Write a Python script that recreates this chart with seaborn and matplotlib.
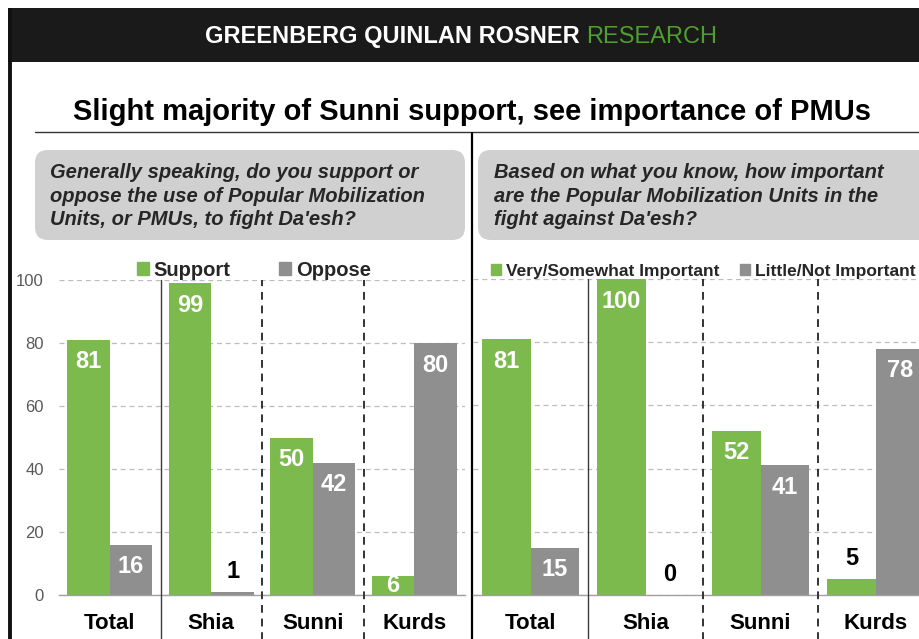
import matplotlib.pyplot as plt
import matplotlib.patches as mpatches
import pandas as pd
import seaborn as sns

groups = ["Total", "Shia", "Sunni", "Kurds"]
support = [81, 99, 50, 6]
oppose = [16, 1, 42, 80]
important = [81, 100, 52, 5]
not_important = [15, 0, 41, 78]

left_names = ["Support", "Oppose"]
right_names = ["Very/Somewhat Important", "Little/Not Important"]

GREEN = "#7DBA4D"
GRAY = "#8F8F8F"
BOX = "#D0D0D0"

sns.set_theme(style="white")
plt.rcParams["font.family"] = ["Liberation Sans", "DejaVu Sans"]

W, H = 920, 639
fig = plt.figure(figsize=(W / 100, H / 100), dpi=100, facecolor="white")


def px_axes(x0, y0, x1, y1):
    # box given in pixels, origin top-left
    return fig.add_axes([x0 / W, 1 - y1 / H, (x1 - x0) / W, (y1 - y0) / H])


# ---- decorations (pixel coordinates) ----
bg = fig.add_axes([0, 0, 1, 1])
bg.set_xlim(0, W)
bg.set_ylim(H, 0)
bg.axis("off")

bg.add_patch(mpatches.Rectangle((8, 8), W, 54, fc="#1A1A1A", ec="none"))
bg.plot([10, 10], [8, H + 5], color="#111111", lw=2.8, solid_capstyle="butt")
bg.text(580, 37, "GREENBERG QUINLAN ROSNER", color="white", fontsize=17,
        fontweight="bold", ha="right", va="center")
bg.text(586, 37, "RESEARCH", color="#4E9F2D", fontsize=17, ha="left", va="center")

bg.text(472, 112, "Slight majority of Sunni support, see importance of PMUs",
        fontsize=21, fontweight="bold", ha="center", va="center", color="black")
bg.plot([35, W], [132, 132], color="#333333", lw=1.0)
bg.plot([472, 472], [132, H + 5], color="black", lw=1.6, solid_capstyle="butt")

for x0, x1 in [(35, 465), (478, 935)]:
    bg.add_patch(mpatches.FancyBboxPatch((x0, 150), x1 - x0, 90,
                                         boxstyle="round,pad=0,rounding_size=13",
                                         fc=BOX, ec="none"))
bg.text(50, 196, "Generally speaking, do you support or\noppose the use of Popular Mobilization\n"
        "Units, or PMUs, to fight Da'esh?", fontsize=14.5, fontweight="bold", style="italic",
        color="#262626", ha="left", va="center", linespacing=1.32)
bg.text(494, 196, "Based on what you know, how important\nare the Popular Mobilization Units in the\n"
        "fight against Da'esh?", fontsize=14.5, fontweight="bold", style="italic",
        color="#262626", ha="left", va="center", linespacing=1.32)


def panel(ax, a, b, names, legend_size, colspace, show_y):
    df = pd.DataFrame({
        "group": groups * 2,
        "value": a + b,
        "series": [names[0]] * len(groups) + [names[1]] * len(groups),
    })
    sns.barplot(data=df, x="group", y="value", hue="series", palette=[GREEN, GRAY],
                width=0.84, saturation=1, linewidth=0, legend=False, ax=ax)
    ax.set_facecolor("none")
    ax.set_xlim(-0.5, len(groups) - 0.5)
    ax.set_ylim(0, 100)
    ax.set_xlabel("")
    ax.set_ylabel("")
    ax.set_yticks(range(0, 101, 20))
    ax.yaxis.grid(True, linestyle=(0, (4, 3)), color="#BDBDBD", lw=0.9)
    ax.set_axisbelow(True)
    for s in ["top", "right", "left"]:
        ax.spines[s].set_visible(False)
    ax.spines["bottom"].set_color("#A0A0A0")
    ax.spines["bottom"].set_linewidth(1.0)
    ax.tick_params(axis="y", length=0, pad=11, labelsize=12, labelcolor="#595959",
                   labelleft=show_y)
    ax.tick_params(axis="x", which="major", length=0, pad=13, labelsize=16)
    for lab in ax.get_xticklabels():
        lab.set_fontweight("bold")
        lab.set_color("black")
    ax.set_xticks([i - 0.5 for i in range(len(groups) + 1)], minor=True)
    ax.tick_params(axis="x", which="minor", length=5, width=1, color="#A0A0A0",
                   direction="out")

    trans = ax.get_xaxis_transform()
    for i in range(1, len(groups)):
        style = "-" if i == 1 else (0, (4, 3))
        col = "#3A3A3A" if i == 1 else "#333333"
        lw = 1.0 if i == 1 else 1.4
        ax.plot([i - 0.5, i - 0.5], [-0.25, 1.0], transform=trans, clip_on=False,
                color=col, lw=lw, linestyle=style, zorder=5)

    for cont, vals in zip(ax.containers, (a, b)):
        for bar, v in zip(cont, vals):
            cx = bar.get_x() + bar.get_width() / 2
            kw = dict(ha="center", fontsize=17, fontweight="bold",
                      textcoords="offset pixels", zorder=6)
            if v <= 5:
                ax.annotate(str(v), (cx, v), xytext=(0, 9), va="bottom",
                            color="black", **kw)
            elif v < 12:
                ax.annotate(str(v), (cx, v / 2), xytext=(0, 0), va="center",
                            color="white", **kw)
            else:
                ax.annotate(str(v), (cx, v), xytext=(0, -22), va="center",
                            color="white", **kw)

    handles = [mpatches.Patch(color=GREEN), mpatches.Patch(color=GRAY)]
    ax.legend(handles, names, loc="lower center", bbox_to_anchor=(0.48, 0.995), ncol=2,
              frameon=False, handlelength=0.6, handleheight=0.6, handletextpad=0.25,
              columnspacing=colspace, borderaxespad=0, borderpad=0.1,
              prop={"weight": "bold", "size": legend_size})


ax_l = px_axes(59, 280, 465, 595)
panel(ax_l, support, oppose, left_names, 14.5, 2.4, True)

ax_r = px_axes(473, 279, 933, 595)
panel(ax_r, important, not_important, right_names, 12.5, 1.2, False)
ax_r.get_legend().set_bbox_to_anchor((0.5, 0.995))

fig.savefig("out.png", dpi=100, facecolor="white")
